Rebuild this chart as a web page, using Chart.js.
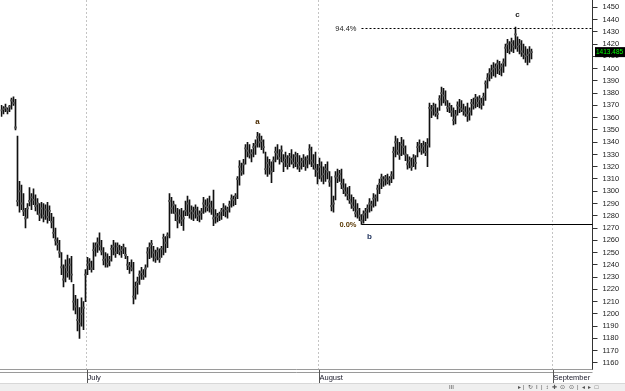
<!DOCTYPE html>
<html><head><meta charset="utf-8">
<script src="https://cdn.jsdelivr.net/npm/chart.js@4.4.1/dist/chart.umd.min.js"></script>
<style>html,body{margin:0;padding:0;background:#fff;}canvas{display:block;}</style>
</head><body>
<canvas id="c" width="625" height="391"></canvas>
<script>
// H4 bars, mid-June to end of August (high / low / close)
const highs = [
1370,1369,1371,1368,1370,1376,1377,1375,1345,1308,
1305,1298,1286,1290,1303,1298,1302,1297,1294,1290,
1291,1290,1289,1291,1288,1282,1279,1270,1262,1260,
1250,1240,1244,1248,1245,1247,1224,1215,1212,1205,
1213,1210,1236,1246,1245,1243,1258,1258,1262,1266,
1260,1254,1250,1249,1247,1256,1260,1258,1258,1256,
1255,1257,1254,1247,1242,1244,1242,1226,1230,1235,
1238,1236,1240,1254,1258,1260,1255,1252,1254,1253,
1255,1265,1263,1266,1298,1295,1292,1289,1286,1285,
1286,1284,1292,1296,1293,1288,1287,1289,1287,1284,
1286,1295,1293,1294,1296,1292,1301,1285,1282,1283,
1286,1290,1288,1287,1292,1297,1296,1298,1312,1325,
1323,1326,1338,1340,1338,1334,1339,1342,1348,1347,
1345,1342,1332,1328,1326,1324,1328,1336,1338,1334,
1337,1330,1332,1329,1331,1334,1330,1332,1331,1329,
1327,1330,1328,1329,1338,1336,1330,1332,1322,1327,
1324,1320,1322,1324,1316,1312,1296,1316,1318,1317,
1318,1310,1306,1303,1304,1297,1295,1293,1290,1286,
1281,1284,1286,1289,1294,1292,1298,1297,1305,1310,
1314,1312,1313,1314,1312,1316,1336,1345,1343,1340,
1344,1342,1337,1330,1328,1327,1330,1329,1340,1342,
1339,1341,1340,1343,1372,1370,1372,1371,1368,1378,
1385,1384,1382,1374,1372,1370,1368,1366,1373,1375,
1374,1371,1369,1372,1368,1375,1376,1379,1377,1378,
1376,1380,1390,1396,1400,1403,1405,1404,1407,1406,
1404,1408,1420,1424,1422,1425,1423,1434,1426,1424,
1423,1420,1418,1416,1418,1416];
const lows = [
1361,1363,1365,1363,1365,1367,1370,1350,1288,1283,
1285,1280,1270,1278,1288,1285,1289,1284,1281,1276,
1278,1275,1277,1274,1276,1270,1262,1256,1252,1246,
1232,1222,1226,1230,1228,1226,1203,1200,1186,1180,
1190,1187,1210,1232,1236,1234,1236,1247,1250,1252,
1248,1240,1238,1238,1239,1243,1248,1246,1249,1248,
1246,1249,1245,1236,1233,1235,1208,1212,1216,1224,
1228,1228,1230,1238,1245,1246,1243,1242,1244,1242,
1246,1248,1250,1254,1262,1282,1282,1276,1270,1274,
1272,1268,1280,1280,1278,1277,1276,1278,1276,1275,
1277,1282,1283,1284,1283,1281,1272,1274,1275,1276,
1277,1280,1279,1278,1283,1287,1288,1289,1294,1305,
1313,1314,1322,1328,1327,1324,1328,1330,1336,1336,
1334,1331,1314,1312,1314,1307,1316,1324,1326,1322,
1324,1316,1320,1318,1320,1322,1319,1320,1318,1316,
1318,1320,1317,1319,1322,1320,1318,1312,1306,1310,
1308,1306,1308,1310,1304,1284,1283,1293,1307,1308,
1302,1298,1296,1293,1290,1286,1284,1279,1278,1276,
1273,1274,1276,1278,1283,1284,1287,1288,1292,1298,
1302,1304,1305,1306,1305,1307,1310,1328,1330,1326,
1329,1330,1325,1318,1319,1317,1320,1318,1328,1332,
1330,1331,1329,1320,1336,1360,1362,1361,1359,1366,
1370,1372,1370,1365,1364,1361,1354,1355,1362,1364,
1365,1362,1361,1357,1358,1362,1367,1368,1369,1368,
1367,1370,1374,1384,1390,1392,1394,1393,1396,1395,
1394,1397,1402,1413,1412,1414,1413,1416,1414,1412,
1410,1408,1405,1403,1405,1408];
const closes = [
1366,1367,1368,1366,1369,1374,1372,1352,1292,1300,
1290,1284,1278,1286,1292,1295,1293,1288,1290,1281,
1286,1280,1285,1279,1284,1275,1266,1260,1257,1250,
1238,1228,1238,1234,1240,1232,1210,1206,1195,1192,
1200,1205,1232,1240,1242,1237,1252,1255,1258,1255,
1251,1244,1246,1241,1244,1253,1255,1250,1255,1251,
1252,1254,1248,1240,1239,1237,1214,1222,1226,1232,
1234,1231,1237,1250,1254,1257,1250,1246,1251,1245,
1253,1262,1258,1264,1292,1286,1289,1282,1276,1280,
1276,1278,1284,1290,1282,1284,1282,1285,1280,1281,
1283,1290,1288,1287,1290,1286,1278,1280,1279,1281,
1284,1286,1284,1285,1289,1294,1293,1296,1310,1320,
1316,1322,1335,1333,1330,1331,1336,1338,1344,1340,
1341,1336,1318,1323,1320,1316,1325,1332,1330,1327,
1333,1324,1327,1322,1328,1326,1323,1329,1323,1320,
1324,1326,1321,1326,1334,1325,1322,1318,1316,1320,
1312,1314,1318,1316,1308,1288,1290,1312,1311,1314,
1306,1302,1299,1297,1293,1290,1287,1282,1285,1280,
1276,1281,1283,1286,1290,1289,1294,1295,1302,1306,
1311,1309,1311,1308,1310,1313,1332,1340,1333,1330,
1338,1336,1330,1322,1325,1320,1327,1323,1336,1338,
1334,1337,1332,1338,1368,1366,1369,1364,1363,1375,
1380,1378,1374,1368,1369,1365,1358,1362,1370,1368,
1367,1366,1364,1362,1365,1372,1370,1376,1372,1375,
1371,1377,1388,1392,1396,1398,1400,1401,1404,1399,
1402,1405,1417,1420,1415,1421,1418,1428,1418,1420,
1414,1412,1410,1411,1413,1413.485];

const slotCount = 296;
const monthLabels = ['July', 'August', 'September'];
const monthSlots = [43, 159, 276];

const fibLabels = ['94.4%', '0.0%'];
const fibValues = [1432.8, 1273.2];
const fibStartSlot = 180;

const waveLabels = ['a', 'b', 'c'];
const waveSlots = [128, 184, 258];
const wavePrices = [1356.5, 1262.5, 1443.8];

const yMin = 1155, yMax = 1456;
const yTickFirst = 1160, yTickLast = 1450, yTickStep = 10;

const labels = Array.from({length: slotCount}, (_, i) => {
  const k = monthSlots.indexOf(i);
  return k >= 0 ? monthLabels[k] : '';
});

const FONT = "'Liberation Sans', Arial, sans-serif";

const extras = {
  id: 'extras',
  beforeDraw(chart) {
    const c = chart.ctx;
    c.save(); c.fillStyle = '#fff'; c.fillRect(0, 0, chart.width, chart.height); c.restore();
  },
  afterDatasetsDraw(chart) {
    const c = chart.ctx, xs = chart.scales.x, ys = chart.scales.y, a = chart.chartArea;
    c.save();
    fibValues.forEach((v, k) => {
      const y = Math.round(ys.getPixelForValue(v)) + 0.5;
      const x0 = xs.getPixelForValue(fibStartSlot);
      c.strokeStyle = '#000';
      c.lineWidth = 1;
      c.setLineDash(k === 0 ? [2, 2] : []);
      c.beginPath(); c.moveTo(x0, y); c.lineTo(a.right, y); c.stroke();
      c.setLineDash([]);
      c.font = (k === 0 ? '' : 'bold ') + '7.5px ' + FONT;
      c.fillStyle = k === 0 ? '#222' : '#5a3a05';
      c.textAlign = 'right'; c.textBaseline = 'middle';
      c.fillText(fibLabels[k], x0 - 5, y);
    });
    const waveColors = ['#4a2a00', '#1c2f5a', '#222'];
    waveLabels.forEach((t, k) => {
      c.font = 'bold 8px ' + FONT;
      c.fillStyle = waveColors[k];
      c.textAlign = 'center'; c.textBaseline = 'middle';
      c.fillText(t, xs.getPixelForValue(waveSlots[k]), ys.getPixelForValue(wavePrices[k]));
    });
    c.restore();
  },
  afterDraw(chart) {
    const c = chart.ctx, xs = chart.scales.x, ys = chart.scales.y, a = chart.chartArea;
    c.save();
    c.strokeStyle = '#9a9a9a'; c.lineWidth = 1;
    c.beginPath(); c.moveTo(0, a.bottom + 0.5); c.lineTo(a.right, a.bottom + 0.5); c.stroke();
    c.beginPath(); c.moveTo(0, a.bottom + 3.5); c.lineTo(a.right, a.bottom + 3.5); c.stroke();
    c.strokeStyle = '#555';
    monthSlots.forEach(s => {
      const x = Math.round(xs.getPixelForValue(s) - xs.width / slotCount / 2) + 0.5;
      c.beginPath(); c.moveTo(x, a.bottom + 1); c.lineTo(x, a.bottom + 14); c.stroke();
    });
    c.fillStyle = '#efefef';
    c.fillRect(0, 383, chart.width, 8);
    c.strokeStyle = '#d8d8d8';
    c.beginPath(); c.moveTo(0, 383.5); c.lineTo(chart.width, 383.5); c.stroke();
    c.fillStyle = '#555'; c.font = '6px ' + FONT; c.textBaseline = 'middle'; c.textAlign = 'left';
    c.fillText('III', 449, 387.5);
    c.fillText('\u25B8 |  \u21BB  I  |  \u2195  \u271A  \u2299  \u2299  |  \u25C2  \u25B8  \u25A1', 518, 387.5);
    const last = closes[closes.length - 1];
    const py = ys.getPixelForValue(last);
    c.fillStyle = '#000';
    c.fillRect(Math.round(a.right) + 2, py - 5, chart.width - a.right - 2, 10);
    c.fillStyle = '#00ff00';
    c.font = '6.5px ' + FONT; c.textAlign = 'left'; c.textBaseline = 'middle';
    c.fillText(last.toFixed(3), Math.round(a.right) + 3, py + 0.5);
    c.restore();
  }
};

new Chart(document.getElementById('c'), {
  type: 'bar',
  data: {
    labels: labels,
    datasets: [
      {
        data: highs.map((h, i) => [lows[i], h]),
        backgroundColor: '#111',
        barThickness: 1,
        grouped: false,
        order: 2
      },
      {
        data: closes.map(v => [v - 0.5, v + 0.5]),
        backgroundColor: '#555',
        barThickness: 2,
        grouped: false,
        order: 1
      }
    ]
  },
  options: {
    responsive: false,
    devicePixelRatio: 1,
    animation: false,
    layout: { padding: { left: 0.5, right: 0, top: 0, bottom: 0 } },
    plugins: { legend: { display: false }, tooltip: { enabled: false }, title: { display: false } },
    scales: {
      x: {
        type: 'category',
        offset: true,
        afterFit(s) { s.height = 22; s.paddingLeft = 0; s.paddingRight = 0; },
        grid: {
          display: true,
          drawOnChartArea: true,
          drawTicks: false,
          offset: true,
          color: ctx => (ctx.type === 'tick' && monthSlots.includes(ctx.index)) ? '#c4c4c4' : 'rgba(0,0,0,0)',
          lineWidth: 1
        },
        border: { display: false, dash: [2, 2] },
        ticks: {
          autoSkip: false,
          maxRotation: 0,
          minRotation: 0,
          align: 'start',
          padding: 4,
          color: '#1a1a2a',
          font: { family: FONT, size: 7.5 }
        }
      },
      y: {
        position: 'right',
        min: yMin,
        max: yMax,
        afterFit(s) { s.width = 32.5; s.paddingTop = 0; s.paddingBottom = 0; },
        afterBuildTicks(s) {
          const t = [];
          for (let v = yTickFirst; v <= yTickLast; v += yTickStep) t.push({ value: v });
          s.ticks = t;
        },
        grid: { drawOnChartArea: false, drawTicks: true, tickLength: 5, tickColor: '#333' },
        border: { display: true, color: '#333', width: 1 },
        ticks: {
          padding: 5,
          color: '#222',
          font: { family: FONT, size: 7.5 },
          callback: v => String(v)
        }
      }
    }
  },
  plugins: [extras]
});
</script>
</body></html>
